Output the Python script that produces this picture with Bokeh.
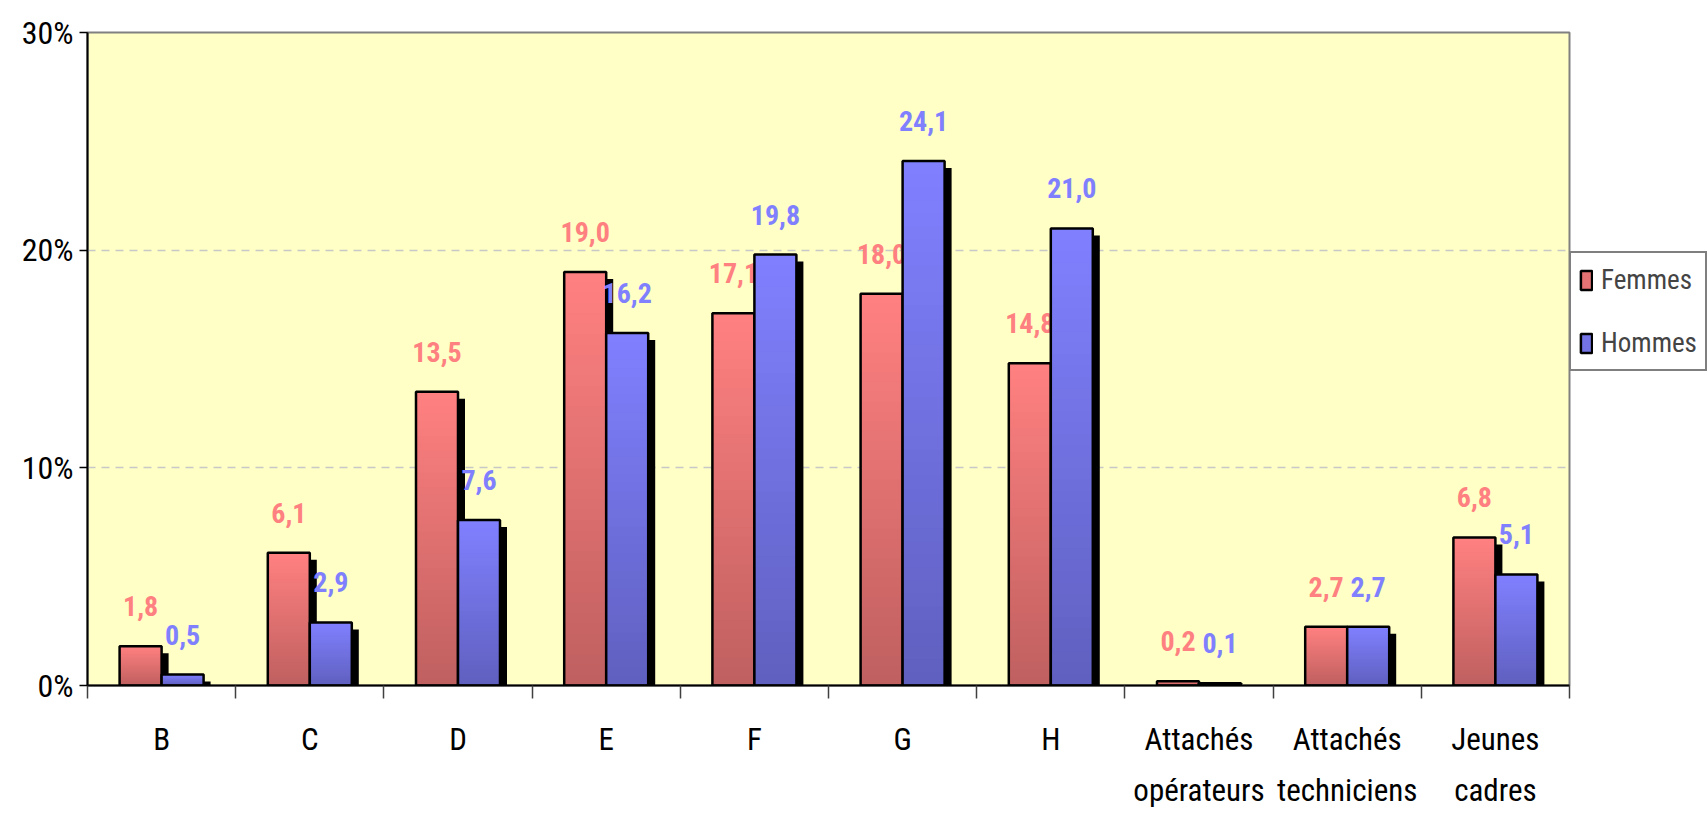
import numpy as np
from bokeh.plotting import figure
from bokeh.models import Range1d, FixedTicker, ColumnDataSource, Legend, LegendItem
from bokeh.core.properties import value
from bokeh.embed import file_html
from bokeh.resources import INLINE

categories = ["B", "C", "D", "E", "F", "G", "H",
              "Attachés\nopérateurs", "Attachés\ntechniciens", "Jeunes\ncadres"]
femmes = [1.8, 6.1, 13.5, 19.0, 17.1, 18.0, 14.8, 0.2, 2.7, 6.8]
hommes = [0.5, 2.9, 7.6, 16.2, 19.8, 24.1, 21.0, 0.1, 2.7, 5.1]
y_ticks = [0, 10, 20, 30]

FONT = "'Liberation Sans Narrow', 'Arial Narrow', 'Roboto Condensed', 'DejaVu Sans Condensed', sans-serif"

L, T, B = 87, 32, 126
FW, FH = 1482, 653

p = figure(frame_width=FW, frame_height=FH, output_backend="svg", toolbar_location=None,
           x_range=Range1d(0, len(categories)), y_range=Range1d(0, 30),
           min_border_left=L, min_border_right=0, min_border_top=T, min_border_bottom=B)
p.background_fill_color = "#FFFFC6"
p.border_fill_color = "white"
p.outline_line_color = "#808080"
p.outline_line_width = 2

# grid
p.xgrid.grid_line_color = None
p.ygrid.ticker = FixedTicker(ticks=[10, 20])
p.ygrid.grid_line_color = "#C8C8C8"
p.ygrid.grid_line_dash = "8 6"
p.ygrid.grid_line_width = 1.5

# axes
p.yaxis.ticker = FixedTicker(ticks=y_ticks)
p.yaxis.major_label_overrides = {t: f"{t}%" for t in y_ticks}
p.yaxis.major_label_text_font = FONT
p.yaxis.major_label_text_font_size = "32px"
p.yaxis.major_label_text_color = "black"
p.yaxis.major_tick_out = 8
p.yaxis.major_tick_in = 0
p.yaxis.minor_tick_line_color = None
p.yaxis.axis_line_color = "black"
p.yaxis.axis_line_width = 2
p.yaxis.major_tick_line_width = 1.5
p.yaxis.major_label_standoff = 6

centers = [i + 0.5 for i in range(len(categories))]
p.xaxis.ticker = FixedTicker(ticks=centers, minor_ticks=list(range(len(categories) + 1)))
p.xaxis.major_label_overrides = {c: lab for c, lab in zip(centers, categories)}
p.xaxis.major_label_text_font = FONT
p.xaxis.major_label_text_font_size = "31px"
p.xaxis.major_label_text_color = "black"
p.xaxis.major_label_text_line_height = 1.4
p.xaxis.major_tick_out = 0
p.xaxis.major_tick_in = 0
p.xaxis.major_tick_line_color = None
p.xaxis.minor_tick_out = 13
p.xaxis.minor_tick_in = 0
p.xaxis.minor_tick_line_color = "#404040"
p.xaxis.minor_tick_line_width = 1.5
p.xaxis.axis_line_color = "black"
p.xaxis.axis_line_width = 2
p.xaxis.major_label_standoff = 22

px_per_x = FW / len(categories)
px_per_y = FH / 30.0
bw = 42 / px_per_x
dx = 7 / px_per_x
dy = 7 / px_per_y

series = [
    (femmes, -1, "#FF8080", "#C06060", "#FF8080", "Femmes"),
    (hommes, 0, "#8080FF", "#6060C0", "#8080FF", "Hommes"),
]

N = 40

def mix(c1, c2, t):
    a = [int(c1[i:i + 2], 16) for i in (1, 3, 5)]
    b = [int(c2[i:i + 2], 16) for i in (1, 3, 5)]
    return "#%02x%02x%02x" % tuple(int(round(a[k] + (b[k] - a[k]) * t)) for k in range(3))

legend_renderers = []
for vals, side, light, dark, lab_col, name in series:
    lefts = [c + side * bw for c in centers]
    rights = [l + bw for l in lefts]
    # shadows
    p.quad(left=[l + dx for l in lefts], right=[r + dx for r in rights],
           bottom=[0] * len(vals), top=[max(v - dy, 0) for v in vals],
           fill_color="black", line_color=None)
    # gradient: nested bars from full height (light) to shortest (dark)
    sl, sr, sb, st, sc = [], [], [], [], []
    for k in range(N):
        frac = 1 - k / N
        col = mix(light, dark, k / (N - 1))
        for l, r, v in zip(lefts, rights, vals):
            sl.append(l); sr.append(r); sb.append(0); st.append(v * frac); sc.append(col)
    p.quad(left=sl, right=sr, bottom=sb, top=st, fill_color=sc, line_color=None)
    # outline
    p.quad(left=lefts, right=rights, bottom=[0] * len(vals), top=vals,
           fill_color=None, line_color="black", line_width=2.5)
    # labels
    src = ColumnDataSource(dict(x=[(l + r) / 2 for l, r in zip(lefts, rights)], y=vals,
                                t=[f"{v:.1f}".replace(".", ",") for v in vals]))
    p.text(x="x", y="y", text="t", source=src, text_align="center", text_baseline="alphabetic",
           y_offset=-40, text_font=value(FONT), text_font_size="28px", text_font_style="bold",
           text_color=lab_col)
    # legend sample (placed outside the visible range, used only for the legend swatch)
    rr = p.quad(left=[-10], right=[-9], top=[-10], bottom=[-11], fill_color=mix(light, dark, 0.4),
                line_color="black", line_width=2.5)
    legend_renderers.append((name, rr))

legend = Legend(items=[LegendItem(label=n, renderers=[r]) for n, r in legend_renderers],
                location=(0, FH - 221 - 128 + 10), orientation="vertical",
                label_text_font=FONT, label_text_font_size="27px",
                glyph_width=14, glyph_height=24, label_standoff=8, label_height=37,
                padding=8, spacing=26, margin=0,
                border_line_color="black", border_line_width=2,
                background_fill_color="white", background_fill_alpha=1.0)
p.add_layout(legend, "right")

html = file_html(p, INLINE)
open("out.html", "w").write(html)
